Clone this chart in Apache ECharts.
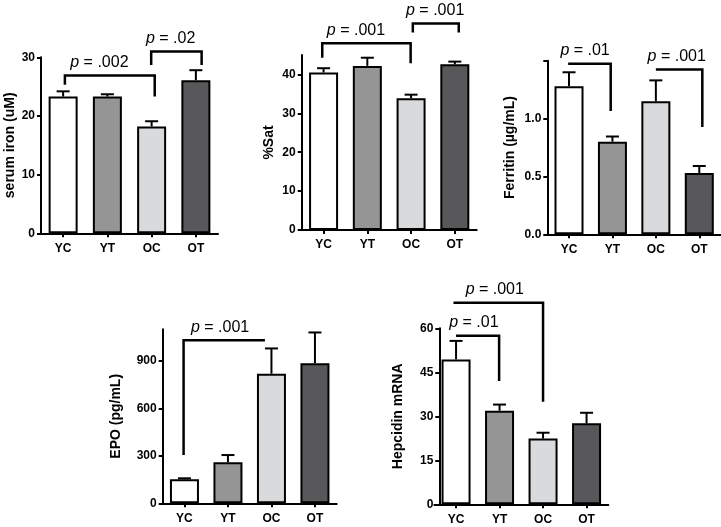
<!DOCTYPE html>
<html>
<head>
<meta charset="utf-8">
<script src="https://cdn.jsdelivr.net/npm/echarts@6/dist/echarts.min.js"></script>
<style>
  html, body { margin: 0; padding: 0; background: #fff; }
  #chart { width: 721px; height: 527px; }
</style>
</head>
<body>
<div id="chart"></div>
<script>
// groups and bar fills
const groups = ['YC', 'YT', 'OC', 'OT'];
const fills = ['#ffffff', '#959595', '#d9dadb', '#58585a'];

// mean and SEM
const ironMean = [23.3, 23.3, 18.2, 26.1];
const ironSem = [0.9, 0.4, 0.9, 1.7];
const satMean = [40.5, 42.2, 33.9, 42.6];
const satSem = [1.1, 2.1, 0.9, 0.7];
const ferritinMean = [1.28, 0.80, 1.15, 0.53];
const ferritinSem = [0.12, 0.045, 0.18, 0.06];
const epoMean = [152, 259, 819, 886];
const epoSem = [6, 46, 160, 194];
const hepcidinMean = [49.4, 31.9, 22.4, 27.6];
const hepcidinSem = [6.3, 2.1, 2.0, 3.6];

// y tick values
const ironTicks = [0, 10, 20, 30];
const satTicks = [0, 10, 20, 30, 40];
const ferritinTicks = [0, 0.5, 1.0, 1.5];
const ferritinLabels = [0, 0.5, 1.0];
const epoTicks = [0, 300, 600, 900];
const hepcidinTicks = [0, 15, 30, 45, 60];

// significance brackets: [x1, x2, yTop, yLeftLeg, yRightLeg, textX, p]
// x in category units (0 = YC centre), null = no leg
const ironBrackets = [
  [0.04, 2.07, 26.9, 25.3, 23.3, 0.82, '.002'],
  [1.99, 3.13, 31.0, 28.7, 28.7, 2.43, '.02']
];
const satBrackets = [
  [-0.03, 1.99, 48.0, 44.3, 42.9, 0.74, '.001'],
  [2.04, 3.09, 53.1, 50.8, 50.8, 2.55, '.001']
];
const ferritinBrackets = [
  [-0.02, 0.96, 1.474, null, 1.066, 0.37, '.01'],
  [2.0, 3.07, 1.425, null, 0.928, 2.48, '.001']
];
const epoBrackets = [
  [-0.02, 1.85, 1031, 305, null, 0.82, '.001']
];
const hepcidinBrackets = [
  [0, 0.99, 57.5, null, 42.0, 0.41, '.01'],
  [-0.06, 2.0, 68.7, null, 35.0, 0.89, '.001']
];

const FONT = "'Liberation Sans', Arial, Helvetica, sans-serif";

const panels = [
  { name: 'serum iron (uM)', mean: ironMean, sem: ironSem, ticks: ironTicks, labels: ironTicks, max: 30,
    brackets: ironBrackets, grid: { left: 41, top: 57.3, width: 177, height: 176 }, gap: 24, fmt: v => v },
  { name: '%Sat', mean: satMean, sem: satSem, ticks: satTicks, labels: satTicks, max: 45,
    brackets: satBrackets, grid: { left: 301.7, top: 55, width: 175, height: 175 }, gap: 26, fmt: v => v },
  { name: 'Ferritin (µg/mL)', mean: ferritinMean, sem: ferritinSem, ticks: ferritinTicks, labels: ferritinLabels, max: 1.5,
    brackets: ferritinBrackets, grid: { left: 547.3, top: 60.7, width: 174, height: 173.6 }, gap: 30, fmt: v => Number(v).toFixed(1) },
  { name: 'EPO (pg/mL)', mean: epoMean, sem: epoSem, ticks: epoTicks, labels: epoTicks, max: 1100,
    brackets: epoBrackets, grid: { left: 162.7, top: 329.3, width: 174, height: 174 }, gap: 40, fmt: v => v },
  { name: 'Hepcidin mRNA', mean: hepcidinMean, sem: hepcidinSem, ticks: hepcidinTicks, labels: hepcidinTicks, max: 60,
    brackets: hepcidinBrackets, grid: { left: 434.3, top: 328.3, width: 174, height: 176 }, gap: 34, offset: -5, fmt: v => v }
];

const axisLine = { show: true, lineStyle: { color: '#000', width: 2 } };

const grids = [], xAxes = [], yAxes = [], series = [];

panels.forEach((p, i) => {
  grids.push(p.grid);
  xAxes.push({
    type: 'category', gridIndex: i, data: groups,
    axisLine: axisLine,
    axisTick: { show: true, alignWithLabel: true, length: 4, lineStyle: { color: '#000', width: 2 } },
    axisLabel: { color: '#000', fontFamily: FONT, fontWeight: 'bold', fontSize: 12, margin: 9 }
  });
  yAxes.push({
    type: 'value', gridIndex: i, min: 0, max: p.max, offset: p.offset || 0,
    name: p.name, nameLocation: 'middle', nameGap: p.gap,
    nameTextStyle: { color: '#000', fontFamily: FONT, fontWeight: 'bold', fontSize: 14 },
    splitLine: { show: false },
    axisLine: axisLine,
    axisTick: { show: true, length: 4, customValues: p.ticks, lineStyle: { color: '#000', width: 2 } },
    axisLabel: { color: '#000', fontFamily: FONT, fontWeight: 'bold', fontSize: 12, margin: 6,
      customValues: p.labels, formatter: p.fmt }
  });

  series.push({
    type: 'bar', xAxisIndex: i, yAxisIndex: i, barWidth: 29,
    data: p.mean,
    itemStyle: { color: params => fills[params.dataIndex], borderColor: '#000', borderWidth: 2 }
  });

  // error bars (upper whisker only)
  series.push({
    type: 'custom', xAxisIndex: i, yAxisIndex: i, clip: false, z: 3,
    data: p.mean.map((m, k) => [k, m, m + p.sem[k]]),
    renderItem: function (params, api) {
      const a = api.coord([api.value(0), api.value(1)]);
      const b = api.coord([api.value(0), api.value(2)]);
      const st = { stroke: '#000', lineWidth: 2 };
      return {
        type: 'group',
        children: [
          { type: 'line', shape: { x1: a[0], y1: a[1], x2: b[0], y2: b[1] }, style: st },
          { type: 'line', shape: { x1: b[0] - 6.5, y1: b[1], x2: b[0] + 6.5, y2: b[1] }, style: st }
        ]
      };
    }
  });

  // significance brackets
  series.push({
    type: 'custom', xAxisIndex: i, yAxisIndex: i, clip: false, z: 4,
    data: p.brackets.map((br, k) => [0, br[2]]),
    renderItem: function (params, api) {
      const br = p.brackets[params.dataIndex];
      const base = api.coord([0, 0])[0];
      const band = api.size([1, 0])[0];
      const X = u => base + u * band;
      const Y = v => api.coord([0, v])[1];
      const pts = [];
      if (br[3] !== null) pts.push([X(br[0]), Y(br[3])]);
      pts.push([X(br[0]), Y(br[2])]);
      pts.push([X(br[1]), Y(br[2])]);
      if (br[4] !== null) pts.push([X(br[1]), Y(br[4])]);
      return {
        type: 'group',
        children: [
          { type: 'polyline', shape: { points: pts }, style: { stroke: '#000', lineWidth: 2.5, fill: null } },
          {
            type: 'text',
            style: {
              x: X(br[5]), y: Y(br[2]) - 13,
              text: '{i|p} = ' + br[6],
              fontFamily: FONT, fontSize: 16, fill: '#000',
              align: 'center', verticalAlign: 'middle',
              rich: { i: { fontFamily: FONT, fontSize: 16, fontStyle: 'italic', fill: '#000' } }
            }
          }
        ]
      };
    }
  });
});

const chart = echarts.init(document.getElementById('chart'));
chart.setOption({
  animation: false,
  backgroundColor: '#fff',
  grid: grids,
  xAxis: xAxes,
  yAxis: yAxes,
  series: series
});
</script>
</body>
</html>
